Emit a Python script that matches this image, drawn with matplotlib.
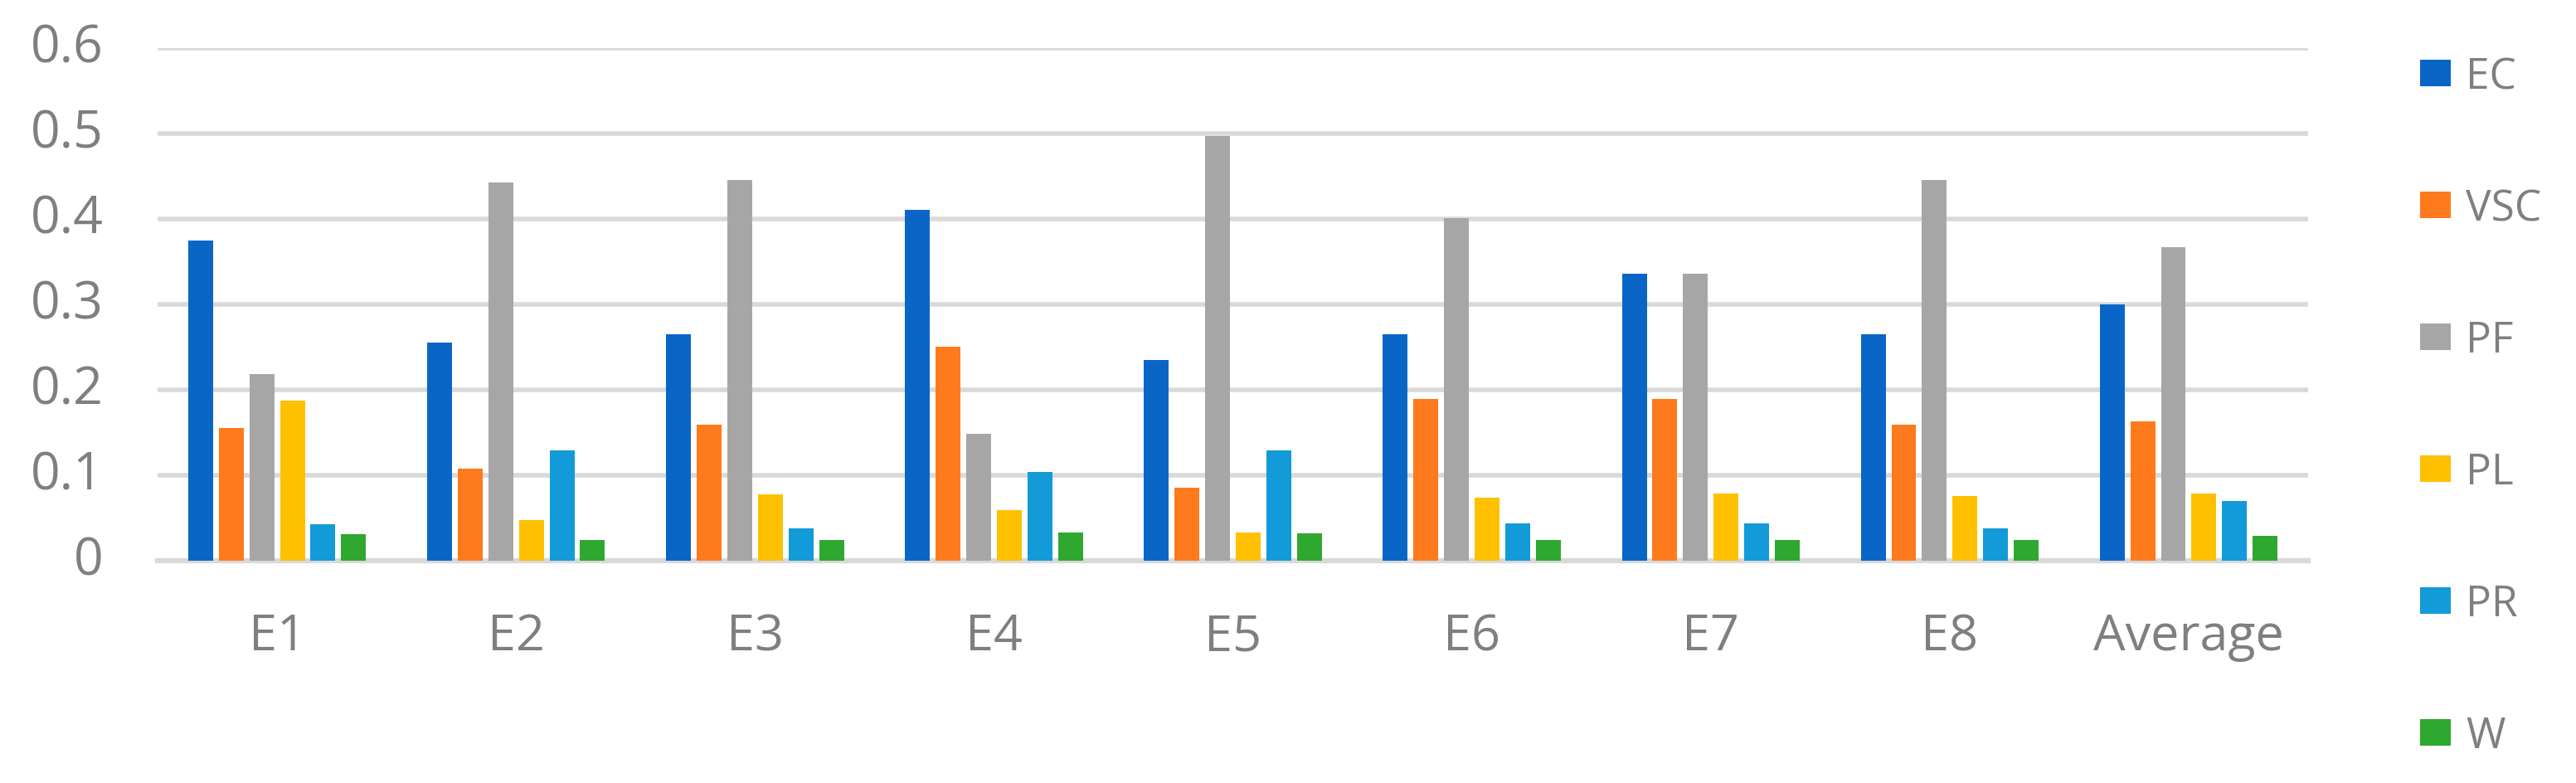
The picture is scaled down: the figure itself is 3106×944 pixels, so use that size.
import numpy as np
import matplotlib
matplotlib.use("Agg")
import matplotlib.pyplot as plt

plt.rcParams['font.family'] = ['Open Sans', 'DejaVu Sans']

categories = ['E1', 'E2', 'E3', 'E4', 'E5', 'E6', 'E7', 'E8', 'Average']
series_names = ['EC', 'VSC', 'PF', 'PL', 'PR', 'W']

ec = [0.375, 0.255, 0.265, 0.411, 0.235, 0.265, 0.336, 0.265, 0.300]
vsc = [0.155, 0.108, 0.159, 0.250, 0.085, 0.189, 0.189, 0.159, 0.163]
pf = [0.218, 0.443, 0.446, 0.149, 0.497, 0.401, 0.336, 0.446, 0.367]
pl = [0.187, 0.048, 0.078, 0.059, 0.033, 0.074, 0.079, 0.076, 0.079]
pr = [0.043, 0.129, 0.038, 0.104, 0.129, 0.044, 0.044, 0.038, 0.070]
w = [0.031, 0.024, 0.024, 0.033, 0.032, 0.024, 0.024, 0.024, 0.029]

colors = ['#0a66c6', '#ff7a1c', '#a6a6a6', '#ffc000', '#139ad8', '#2fa82f']
yticks = [0, 0.1, 0.2, 0.3, 0.4, 0.5, 0.6]
ytick_labels = ['0', '0.1', '0.2', '0.3', '0.4', '0.5', '0.6']

txt = '#7f7f7f'
grid = '#d9d9d9'

fig = plt.figure(figsize=(31.06, 9.45), dpi=100)
ax = fig.add_axes([0.0612, 0.2836, 0.8348, 0.654])

x = np.arange(len(categories))
pitch, width = 0.128, 0.104
data = [ec, vsc, pf, pl, pr, w]
for i, (name, vals) in enumerate(zip(series_names, data)):
    off = (i - 2.5) * pitch
    ax.bar(x + off, vals, width, color=colors[i], label=name, zorder=3)

ax.set_xlim(-0.5, len(categories) - 0.5)
ax.set_ylim(0, 0.6)
ax.set_yticks(yticks)
ax.set_yticklabels(ytick_labels)
ax.set_xticks(x)
ax.set_xticklabels(categories)
ax.yaxis.grid(True, color=grid, linewidth=4, zorder=0)
ax.set_axisbelow(True)
for s in ['top', 'right', 'left']:
    ax.spines[s].set_visible(False)
ax.spines['bottom'].set_color(grid)
ax.spines['bottom'].set_linewidth(4.5)
ax.tick_params(axis='y', length=0, pad=47, labelsize=45, labelcolor=txt)
ax.tick_params(axis='x', length=0, pad=44, labelsize=44, labelcolor=txt)
for lbl in ax.get_yticklabels():
    lbl.set_verticalalignment('center')

fig.legend(loc='center left', bbox_to_anchor=(0.9395, 0.48), frameon=False,
           fontsize=37, labelcolor=txt, borderpad=0, borderaxespad=0,
           handlelength=0.71, handleheight=0.58, handletextpad=0.36,
           labelspacing=2.1)

fig.savefig('out.png', dpi=100, facecolor='white')
